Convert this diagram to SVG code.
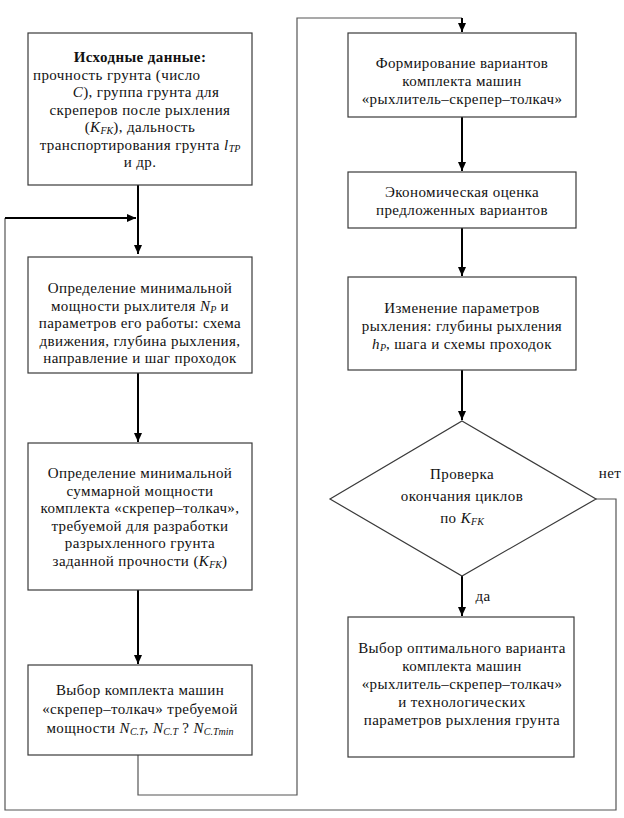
<svg xmlns="http://www.w3.org/2000/svg" width="624" height="818" viewBox="0 0 624 818">
<style>
.box{fill:#fff;stroke:#3a3a3a;stroke-width:1.2}
.t{font-family:'Liberation Serif','DejaVu Serif',serif;font-size:15px;fill:#111;text-anchor:middle;letter-spacing:0.4px}
.i{font-style:italic}
.s{font-size:10px;font-style:italic;letter-spacing:0}
.thick{stroke:#000;stroke-width:2;fill:none}
.thin{stroke:#555;stroke-width:1.2;fill:none}
</style>
<defs>
<marker id="ah" markerWidth="10" markerHeight="10" refX="9" refY="5" orient="auto" markerUnits="userSpaceOnUse">
<path d="M0,1 L9,5 L0,9 Z" fill="#000"/>
</marker>
</defs>
<rect width="624" height="818" fill="#fff"/>
<g id="connectors">
<path class="thick" d="M138,185 V254" marker-end="url(#ah)"/>
<path class="thin" d="M5,218 V810 H616 V499 H596"/>
<path class="thick" d="M5,218 H136" marker-end="url(#ah)"/>
<path class="thick" d="M138,373 V442" marker-end="url(#ah)"/>
<path class="thick" d="M138,590 V664" marker-end="url(#ah)"/>
<path class="thin" d="M138,755 V795 H297 V18 H462"/>
<path class="thick" d="M462,18 V32" marker-end="url(#ah)"/>
<path class="thick" d="M462,117 V171" marker-end="url(#ah)"/>
<path class="thick" d="M462,228 V276" marker-end="url(#ah)"/>
<path class="thick" d="M462,370 V420" marker-end="url(#ah)"/>
<path class="thick" d="M462,576 V616" marker-end="url(#ah)"/>
</g>
<g id="n1">
<rect class="box" x="28" y="33" width="224" height="152"/>
<text class="t" x="140" y="62" font-weight="bold">Исходные данные:</text>
<text class="t" x="33" y="79.5" style="text-anchor:start">прочность грунта (число</text>
<text class="t" x="146" y="97"><tspan class="i">C</tspan>), группа грунта для</text>
<text class="t" x="140" y="114.5">скреперов после рыхления</text>
<text class="t" x="140" y="132">(<tspan class="i">K</tspan><tspan class="s" dy="2">FK</tspan><tspan dy="-2">), дальность</tspan></text>
<text class="t" x="140" y="149.5">транспортирования грунта <tspan class="i">l</tspan><tspan class="s" dy="2">TP</tspan></text>
<text class="t" x="140" y="167">и др.</text>
</g>
<g id="n2">
<rect class="box" x="28" y="257" width="224" height="116"/>
<text class="t" x="140" y="293">Определение минимальной</text>
<text class="t" x="140" y="310.5">мощности рыхлителя <tspan class="i">N</tspan><tspan class="s" dy="2">P</tspan><tspan dy="-2"> и</tspan></text>
<text class="t" x="140" y="328">параметров его работы: схема</text>
<text class="t" x="140" y="345.5">движения, глубина рыхления,</text>
<text class="t" x="140" y="363">направление и шаг проходок</text>
</g>
<g id="n3">
<rect class="box" x="28" y="443" width="224" height="147"/>
<text class="t" x="140" y="478">Определение минимальной</text>
<text class="t" x="140" y="495.5">суммарной мощности</text>
<text class="t" x="140" y="513">комплекта «скрепер–толкач»,</text>
<text class="t" x="140" y="530.5">требуемой для разработки</text>
<text class="t" x="140" y="548">разрыхленного грунта</text>
<text class="t" x="140" y="565.5">заданной прочности (<tspan class="i">K</tspan><tspan class="s" dy="2">FK</tspan><tspan dy="-2">)</tspan></text>
</g>
<g id="n4">
<rect class="box" x="28" y="665" width="224" height="90"/>
<text class="t" x="140" y="695">Выбор комплекта машин</text>
<text class="t" x="140" y="714">«скрепер–толкач» требуемой</text>
<text class="t" x="140" y="733">мощности <tspan class="i">N</tspan><tspan class="s" dy="2">C.T</tspan><tspan class="i" dy="-2">, N</tspan><tspan class="s" dy="2">C.T</tspan><tspan dy="-2"> ? </tspan><tspan class="i">N</tspan><tspan class="s" dy="2">C.Tmin</tspan></text>
</g>
<g id="r1">
<rect class="box" x="348" y="33" width="228" height="84"/>
<text class="t" x="462" y="68">Формирование вариантов</text>
<text class="t" x="462" y="86">комплекта машин</text>
<text class="t" x="462" y="104">«рыхлитель–скрепер–толкач»</text>
</g>
<g id="r2">
<rect class="box" x="348" y="172" width="228" height="56"/>
<text class="t" x="462" y="197">Экономическая оценка</text>
<text class="t" x="462" y="215">предложенных вариантов</text>
</g>
<g id="r3">
<rect class="box" x="348" y="277" width="228" height="93"/>
<text class="t" x="462" y="313">Изменение параметров</text>
<text class="t" x="462" y="331">рыхления: глубины рыхления</text>
<text class="t" x="462" y="349"><tspan class="i">h</tspan><tspan class="s" dy="2">P</tspan><tspan dy="-2">, шага и схемы проходок</tspan></text>
</g>
<g id="d1">
<polygon class="box" points="462,421 596,499 462,576 330,499"/>
<text class="t" x="462" y="479">Проверка</text>
<text class="t" x="462" y="501">окончания циклов</text>
<text class="t" x="462" y="523">по <tspan class="i">K</tspan><tspan class="s" dy="2">FK</tspan></text>
</g>
<g id="r4">
<rect class="box" x="348" y="617" width="226" height="140"/>
<text class="t" x="462" y="653">Выбор оптимального варианта</text>
<text class="t" x="462" y="671">комплекта машин</text>
<text class="t" x="462" y="689">«рыхлитель–скрепер–толкач»</text>
<text class="t" x="462" y="707">и технологических</text>
<text class="t" x="462" y="725">параметров рыхления грунта</text>
</g>
<g id="labels">
<text class="t" x="610" y="478">нет</text>
<text class="t" x="483" y="601">да</text>
</g>
</svg>
